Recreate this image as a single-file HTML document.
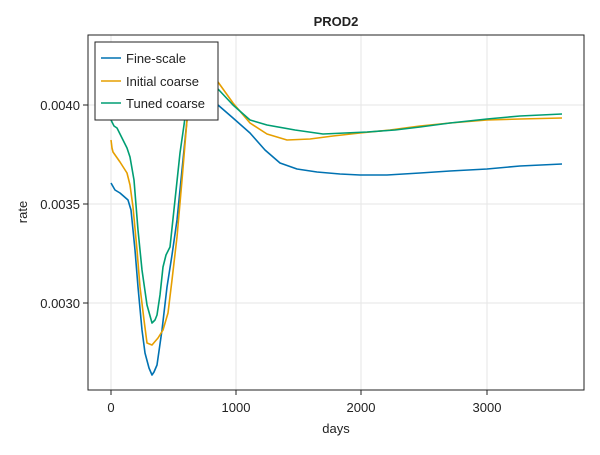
<!DOCTYPE html>
<html><head><meta charset="utf-8"><style>
body{margin:0;background:#fff}
svg text{font-family:"Liberation Sans",sans-serif;fill:#222}
</style></head><body>
<svg width="600" height="450" viewBox="0 0 600 450">
<rect width="600" height="450" fill="#fff"/>
<g stroke="#e6e6e6" stroke-width="1">
<line x1="111" y1="35" x2="111" y2="390"/><line x1="236" y1="35" x2="236" y2="390"/>
<line x1="361" y1="35" x2="361" y2="390"/><line x1="487" y1="35" x2="487" y2="390"/>
<line x1="88" y1="105" x2="584" y2="105"/><line x1="88" y1="204" x2="584" y2="204"/>
<line x1="88" y1="303" x2="584" y2="303"/>
</g>
<g fill="none" stroke-width="1.6" stroke-linejoin="round">
<polyline stroke="#0072b2" points="111,183 115,190 120,193 128,200 131,210 135,250 138,287 142,330 145,353 149,368 152,375 154,372 157,365 162,330 167,287 172,255 177,220 182,170 187,120 195,85 205,72 212,90 218,105 233,118 250,133 265,150 280,163 297,169 317,172 340,174 360,175 387,175 420,173 450,171 487,169 520,166 562,164"/>
<polyline stroke="#e69f00" points="111,140 112,148 113,152 120,162 127,173 130,185 133,207 137,250 140,287 144,320 147,343 152,345 158,338 163,330 168,313 172,280 177,237 182,180 187,120 195,90 205,75 212,78 218,82 233,103 250,123 267,134 287,140 310,139 333,136 360,133 390,130 420,126 450,123 487,120 520,119 562,118"/>
<polyline stroke="#009e73" points="111,120 114,126 117,128 120,134 123,140 127,148 130,157 134,180 138,230 142,270 147,305 152,323 155,320 157,315 160,295 163,267 166,255 170,247 175,200 180,153 184,125 187,103 195,75 205,68 212,80 218,89 233,105 250,120 267,125 295,130 323,134 345,133 367,132 395,130 420,127 450,123 487,119 520,116 562,114"/>
</g>
<rect x="88" y="35" width="496" height="355" fill="none" stroke="#222" stroke-width="1"/>
<g stroke="#222"><line x1="111" y1="390" x2="111" y2="395"/><line x1="236" y1="390" x2="236" y2="395"/><line x1="361" y1="390" x2="361" y2="395"/><line x1="487" y1="390" x2="487" y2="395"/>
<line x1="83" y1="105" x2="88" y2="105"/><line x1="83" y1="204" x2="88" y2="204"/><line x1="83" y1="303" x2="88" y2="303"/></g>
<g font-size="13" text-anchor="middle">
<text x="111" y="412">0</text><text x="236" y="412">1000</text><text x="361" y="412">2000</text><text x="487" y="412">3000</text>
</g>
<g font-size="13" text-anchor="end">
<text x="80" y="110">0.0040</text><text x="80" y="209">0.0035</text><text x="80" y="308">0.0030</text>
</g>
<text x="336" y="433" font-size="13" text-anchor="middle">days</text>
<text x="27" y="212" font-size="13" text-anchor="middle" transform="rotate(-90 27 212)">rate</text>
<text x="336" y="26" font-size="13" font-weight="bold" text-anchor="middle">PROD2</text>
<rect x="95" y="42" width="123" height="78" fill="#fff" stroke="#222" stroke-width="1"/>
<g stroke-width="1.6"><line x1="101" y1="58" x2="121" y2="58" stroke="#0072b2"/><line x1="101" y1="81" x2="121" y2="81" stroke="#e69f00"/><line x1="101" y1="103" x2="121" y2="103" stroke="#009e73"/></g>
<g font-size="13"><text x="126" y="63">Fine-scale</text><text x="126" y="86">Initial coarse</text><text x="126" y="108">Tuned coarse</text></g>
</svg>
</body></html>
